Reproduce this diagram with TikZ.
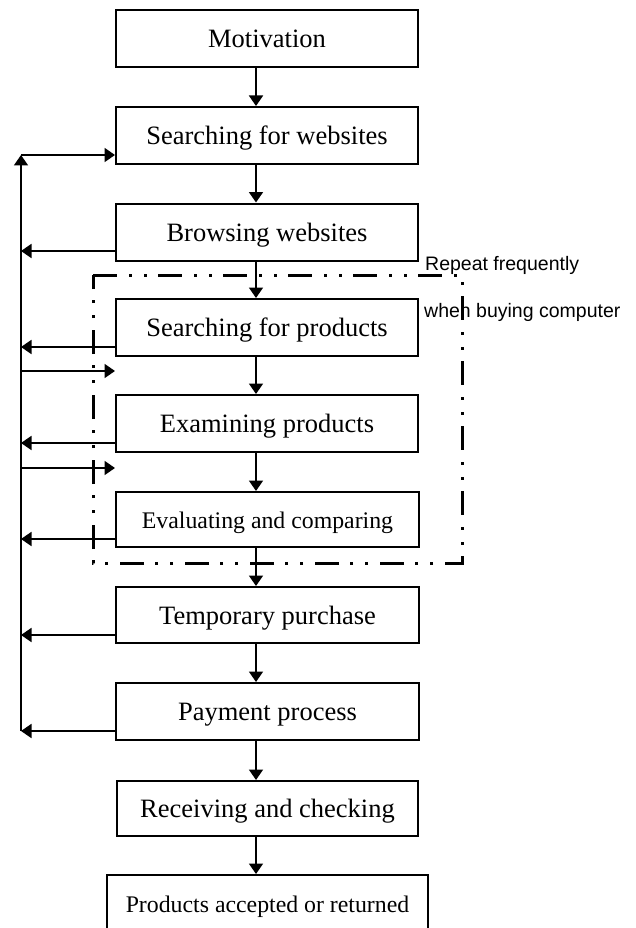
\documentclass[tikz,border=0pt]{standalone}
\usepackage{fontspec}
\setmainfont{Liberation Serif}
\newfontfamily\sansf{Liberation Sans}
\usetikzlibrary{arrows.meta}
\tikzset{
  x=1pt,y=-1pt,
  box/.style={draw,line width=2pt,fill=white,minimum width=302pt,minimum height=57pt,
    inner sep=0pt,font=\fontsize{26.5}{30}\selectfont,text height=20pt,text depth=2pt},
  smallbox/.style={box,font=\fontsize{23.8}{28}\selectfont,text height=17pt,text depth=0pt},
  arr/.style={line width=1.8pt,-{Triangle[length=10.5pt,width=14pt]}},
  ddot/.style={line width=3pt,line cap=butt,dash pattern=on 24pt off 12pt on 3pt off 12pt on 3pt off 11pt},
  note/.style={inner sep=0pt,anchor=base west,font=\sansf\fontsize{19.5}{22}\selectfont}
}
\begin{document}
\begin{tikzpicture}
\useasboundingbox (0,0) rectangle (636,928);
\clip (0,0) rectangle (636,928);
% repeat region
\draw[ddot] (93,275) -- (462,275) -- (462,563) -- (93,563) -- cycle;
% boxes
\node[box] (mot) at (267,39) {Motivation};
\node[box] (web) at (267,135.5) {Searching for websites};
\node[box] (brw) at (267,232) {Browsing websites};
\node[box] (sp)  at (267,327.5) {Searching for products};
\node[box] (ex)  at (267,423.5) {Examining products};
\node[smallbox,minimum width=303pt,minimum height=55pt] (ev) at (267.5,519.5) {Evaluating and comparing};
\node[box,minimum width=303pt,minimum height=56pt] (tp) at (267.5,615) {Temporary purchase};
\node[box,minimum width=303pt] (pay) at (267.5,711.5) {Payment process};
\node[box,minimum width=301pt,minimum height=55pt] (rec) at (267.5,808.5) {Receiving and checking};
\node[smallbox,minimum width=321pt,minimum height=58pt] (prod) at (267.5,904) {Products accepted or returned};
% note
\node[note] (n1) at (425,270) {Repeat frequently};
\node[note] (n2) at (424,317) {when buying computer};
% main flow
\foreach \a/\b in {mot/web,web/brw,brw/sp,sp/ex,ex/ev,ev/tp,tp/pay,pay/rec,rec/prod}
  \draw[arr] (\a.south -| 256,0) -- (\b.north -| 256,0);
% spine
\coordinate (stop) at (21,155);
\coordinate (sbot) at (21,731);
\coordinate (s1) at (21,251);
\coordinate (s2) at (21,347);
\coordinate (s3) at (21,371);
\coordinate (s4) at (21,443);
\coordinate (s5) at (21,468);
\coordinate (s6) at (21,539);
\coordinate (s7) at (21,635);
\draw[arr] (sbot) -- (stop);
\draw[arr] (stop) -- (web.west |- stop);
\draw[arr] (brw.west |- s1) -- (s1);
\draw[arr] (sp.west |- s2) -- (s2);
\draw[arr] (s3) -- (sp.west |- s3);
\draw[arr] (ex.west |- s4) -- (s4);
\draw[arr] (s5) -- (ex.west |- s5);
\draw[arr] (ev.west |- s6) -- (s6);
\draw[arr] (tp.west |- s7) -- (s7);
\draw[arr] (pay.west |- sbot) -- (sbot);
\end{tikzpicture}
\end{document}
